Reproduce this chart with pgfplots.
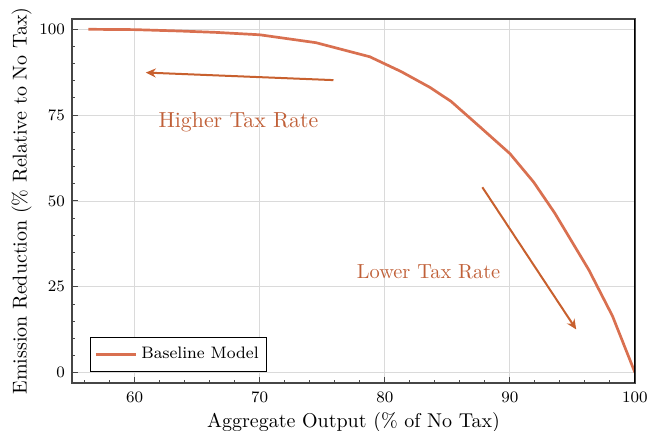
\documentclass[border=0pt]{standalone}
\usepackage{pgfplots}
\pgfplotsset{compat=1.18}
\usetikzlibrary{arrows.meta}

\definecolor{curvecol}{RGB}{217,112,80}
\definecolor{arrowcol}{RGB}{200,96,46}
\definecolor{notecol}{RGB}{192,96,56}
\definecolor{gridcol}{RGB}{218,218,218}
\definecolor{spinecol}{RGB}{70,70,70}

\begin{document}
\begin{tikzpicture}
\begin{axis}[
  scale only axis,
  width=281.5pt, height=182pt,
  xmin=55, xmax=100,
  ymin=-3, ymax=103,
  xtick={60,70,80,90,100},
  ytick={0,25,50,75,100},
  minor xtick={56,58,62,64,66,68,72,74,76,78,82,84,86,88,92,94,96,98},
  minor ytick={5,10,15,20,30,35,40,45,55,60,65,70,80,85,90,95},
  tick align=inside,
  xtick pos=bottom, ytick pos=left,
  major tick length=3pt, minor tick length=1.7pt,
  every tick/.style={spinecol, line width=0.5pt},
  grid=major,
  major grid style={gridcol, line width=0.45pt},
  axis line style={spinecol, line width=0.8pt},
  tick label style={font=\fontsize{8.3}{9}\selectfont},
  xticklabel style={yshift=-1pt},
  label style={font=\fontsize{10}{12}\selectfont},
  xlabel={Aggregate Output (\% of No Tax)},
  ylabel={Emission Reduction (\% Relative to No Tax)},
  xlabel style={yshift=2pt},
  ylabel style={yshift=-3pt},
  legend style={at={(0.032,0.03)}, anchor=south west, draw=black,
    line width=0.5pt, font=\fontsize{8.3}{9}\selectfont,
    inner xsep=2pt, inner ysep=3pt, cells={anchor=west}},
  legend image code/.code={\draw[#1, line width=1.4pt] (0pt,0pt) -- (20pt,0pt);},
]
\addplot[curvecol, line width=1.35pt] coordinates {
  (56.3,100.0) (60.0,99.9) (63.6,99.5) (66.5,99.1) (70.0,98.4)
  (74.5,96.1) (78.8,92.0) (81.3,87.7) (83.6,83.1) (85.3,79.0)
  (87.6,71.6) (90.0,63.8) (91.9,55.5) (93.6,46.4) (96.3,30.0)
  (98.2,16.5) (100.0,0.0)
};
\addlegendentry{Baseline Model}

% direction of a rising tax rate
\draw[arrowcol, line width=1pt, -{Stealth[length=5pt,width=4.5pt]}]
  (axis cs:75.9,85.2) -- (axis cs:60.9,87.4);
\node[notecol, font=\fontsize{10.9}{12}\selectfont] at (axis cs:68.3,73.0) {Higher Tax Rate};

% direction of a falling tax rate
\draw[arrowcol, line width=1pt, -{Stealth[length=5pt,width=4.5pt]}]
  (axis cs:87.8,54.0) -- (axis cs:95.3,12.6);
\node[notecol, font=\fontsize{10.2}{12}\selectfont] at (axis cs:83.5,29.4) {Lower Tax Rate};

\draw[black, line width=0.8pt] (rel axis cs:1,0) -- (rel axis cs:1,1);
\end{axis}
\pgfresetboundingbox
\useasboundingbox (current axis.south west) ++(-36pt,-24pt) rectangle ([xshift=6.5pt,yshift=9.5pt]current axis.north east);
\end{tikzpicture}
\end{document}
